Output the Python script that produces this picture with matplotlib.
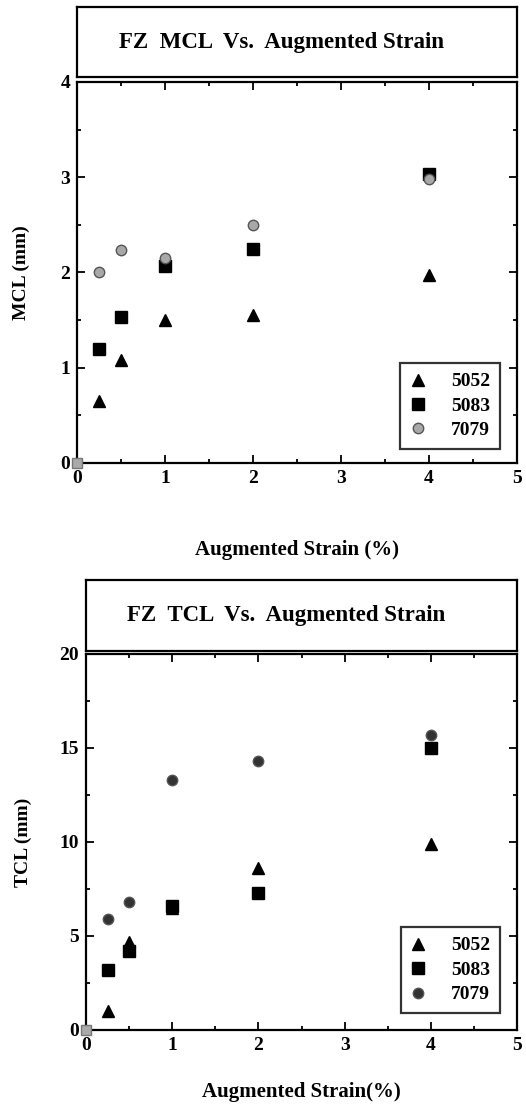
import matplotlib

matplotlib.use("Agg")

import matplotlib.pyplot as plt
from matplotlib.ticker import MultipleLocator

plt.rcParams["font.family"] = ["Liberation Serif", "DejaVu Serif"]
plt.rcParams["font.weight"] = "bold"

# data
strain = [0.25, 0.5, 1.0, 2.0, 4.0]

mcl_5052 = [0.65, 1.08, 1.50, 1.55, 1.97]
mcl_5083 = [1.20, 1.53, 2.07, 2.25, 3.03]
mcl_7079 = [2.01, 2.24, 2.15, 2.50, 2.98]

tcl_5052 = [1.0, 4.7, 6.5, 8.6, 9.9]
tcl_5083 = [3.2, 4.2, 6.6, 7.3, 15.0]
tcl_7079 = [5.9, 6.8, 13.3, 14.3, 15.7]

origin_x = [0.0]
origin_y = [0.0]

alloys = ["5052", "5083", "7079"]


def style_axes(ax, ymax, ymajor, yminor):
    ax.set_xlim(0, 5)
    ax.set_ylim(0, ymax)
    ax.xaxis.set_major_locator(MultipleLocator(1))
    ax.xaxis.set_minor_locator(MultipleLocator(0.5))
    ax.yaxis.set_major_locator(MultipleLocator(ymajor))
    ax.yaxis.set_minor_locator(MultipleLocator(yminor))
    ax.tick_params(which="both", direction="in", top=True, right=True, width=1.3)
    ax.tick_params(which="major", length=6, labelsize=14, pad=5)
    ax.tick_params(which="minor", length=3)
    for s in ax.spines.values():
        s.set_linewidth(1.6)
    for lab in ax.get_xticklabels() + ax.get_yticklabels():
        lab.set_fontweight("bold")


def title_box(fig, rect, text):
    tax = fig.add_axes(rect)
    tax.set_xticks([])
    tax.set_yticks([])
    for s in tax.spines.values():
        s.set_linewidth(1.6)
    tax.text(0.465, 0.5, text, ha="center", va="center", fontsize=16.5, fontweight="bold",
             transform=tax.transAxes)


def panel(ax, y1, y2, y3, c3, anchor):
    ax.plot(strain, y1, linestyle="none", marker="^", ms=9, color="black", label=alloys[0])
    ax.plot(strain, y2, linestyle="none", marker="s", ms=8, color="black", label=alloys[1])
    ax.plot(strain, y3, linestyle="none", marker="o", ms=7.5, color=c3, mec="#555555",
            label=alloys[2])
    ax.plot(origin_x, origin_y, linestyle="none", marker="s", ms=7, color="#aaaaaa",
            mec="#777777", clip_on=False, zorder=5)
    leg = ax.legend(loc="lower right", bbox_to_anchor=anchor, borderaxespad=0,
                    frameon=True, fancybox=False, edgecolor="black",
                    prop={"size": 14, "weight": "bold"},
                    handletextpad=1.3, borderpad=0.5, labelspacing=0.35, handlelength=0.8)
    leg.get_frame().set_linewidth(1.6)


fig = plt.figure(figsize=(5.26, 11.05), dpi=100)

# top panel
title_box(fig, [0.1464, 0.9303, 0.8365, 0.0633], "FZ  MCL  Vs.  Augmented Strain")
ax1 = fig.add_axes([0.1464, 0.581, 0.8365, 0.3448])
panel(ax1, mcl_5052, mcl_5083, mcl_7079, "#a8a8a8", (0.961, 0.037))
style_axes(ax1, 4, 1, 0.5)
ax1.set_ylabel("MCL (mm)", fontsize=14, fontweight="bold", labelpad=22)
ax1.set_xlabel("Augmented Strain (%)", fontsize=15, fontweight="bold", labelpad=38)

# bottom panel
title_box(fig, [0.1635, 0.4109, 0.8194, 0.0643], "FZ  TCL  Vs.  Augmented Strain")
ax2 = fig.add_axes([0.1635, 0.0679, 0.8194, 0.3403])
panel(ax2, tcl_5052, tcl_5083, tcl_7079, "#333333", (0.961, 0.045))
style_axes(ax2, 20, 5, 2.5)
ax2.set_ylabel("TCL (mm)", fontsize=14, fontweight="bold", labelpad=20)
ax2.set_xlabel("Augmented Strain(%)", fontsize=15, fontweight="bold", labelpad=20)

fig.savefig("out.png", dpi=100)
